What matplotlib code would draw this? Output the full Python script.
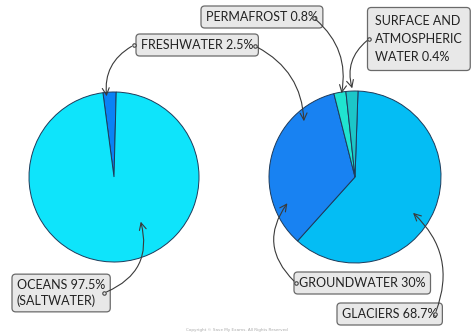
import matplotlib
matplotlib.use("Agg")
import matplotlib.pyplot as plt
from matplotlib.patches import FancyArrowPatch

# left pie: all water on Earth
total_labels = ['FRESHWATER 2.5%', 'OCEANS 97.5%\n(SALTWATER)']
total_share = [2.5, 97.5]
total_colors = ['#0a82f5', '#0ee4fb']

fresh_labels = ['GLACIERS 68.7%', 'GROUNDWATER 30%', 'PERMAFROST 0.8%',
                'SURFACE AND\nATMOSPHERIC\nWATER 0.4%']
fresh_share = [61.1, 34.4, 2.25, 2.25]
fresh_colors = ['#04bdf4', '#1882f2', '#20e4d0', '#1cc6c8']

W, H = 474, 335
fig = plt.figure(figsize=(W / 100, H / 100), dpi=100)
ax = fig.add_axes([0, 0, 1, 1])

edge = dict(edgecolor='#1d3a5a', linewidth=0.7)
ax.pie(total_share, colors=total_colors, startangle=88.5, counterclock=True,
       center=(114, H - 177), radius=85, wedgeprops=edge)
ax.pie(fresh_share, colors=fresh_colors, startangle=88, counterclock=False,
       center=(355, H - 177), radius=86, wedgeprops=edge)

ax.set_xlim(0, W)
ax.set_ylim(0, H)
ax.set_aspect('equal')
ax.axis('off')

font = dict(family='Lato', fontsize=9, color='#222222')


def label(x, y, text, pad=0.4, spacing=1.3):
    box = dict(boxstyle=f'round,pad={pad},rounding_size=0.3', fc='#e8e8e8', ec='#6a6a6a', lw=0.9)
    ax.text(x, H - y, text, ha='left', va='center', bbox=box, linespacing=spacing, **font)


def arrow(x0, y0, x1, y1, rad):
    ax.plot(x0, H - y0, 'o', ms=2.5, mfc='#e8e8e8', mec='#444444', mew=0.8, zorder=5)
    ax.add_patch(FancyArrowPatch((x0, H - y0), (x1, H - y1),
                                 connectionstyle=f'arc3,rad={rad}',
                                 arrowstyle='->,head_length=5,head_width=2.5',
                                 color='#3a3a3a', lw=0.8, zorder=4))


label(141, 45, total_labels[0])
arrow(134, 45, 107, 99, 0.35)
arrow(255, 46, 304, 124, -0.3)

label(17, 293, total_labels[1])
arrow(104, 293, 140, 219, 0.45)

label(206, 17, fresh_labels[2])
arrow(314, 18, 341, 96, -0.3)

label(375, 39, fresh_labels[3], pad=0.6, spacing=1.6)
arrow(369, 39, 353, 91, 0.35)

label(299, 283, fresh_labels[1])
arrow(296, 283, 289, 201, -0.45)

label(342, 314, fresh_labels[0])
arrow(435, 314, 411, 211, 0.35)

ax.text(237, 3, 'Copyright \u00a9 Save My Exams. All Rights Reserved', ha='center',
        va='bottom', fontsize=3, color='#aaaaaa')

fig.savefig('out.png', dpi=100)
